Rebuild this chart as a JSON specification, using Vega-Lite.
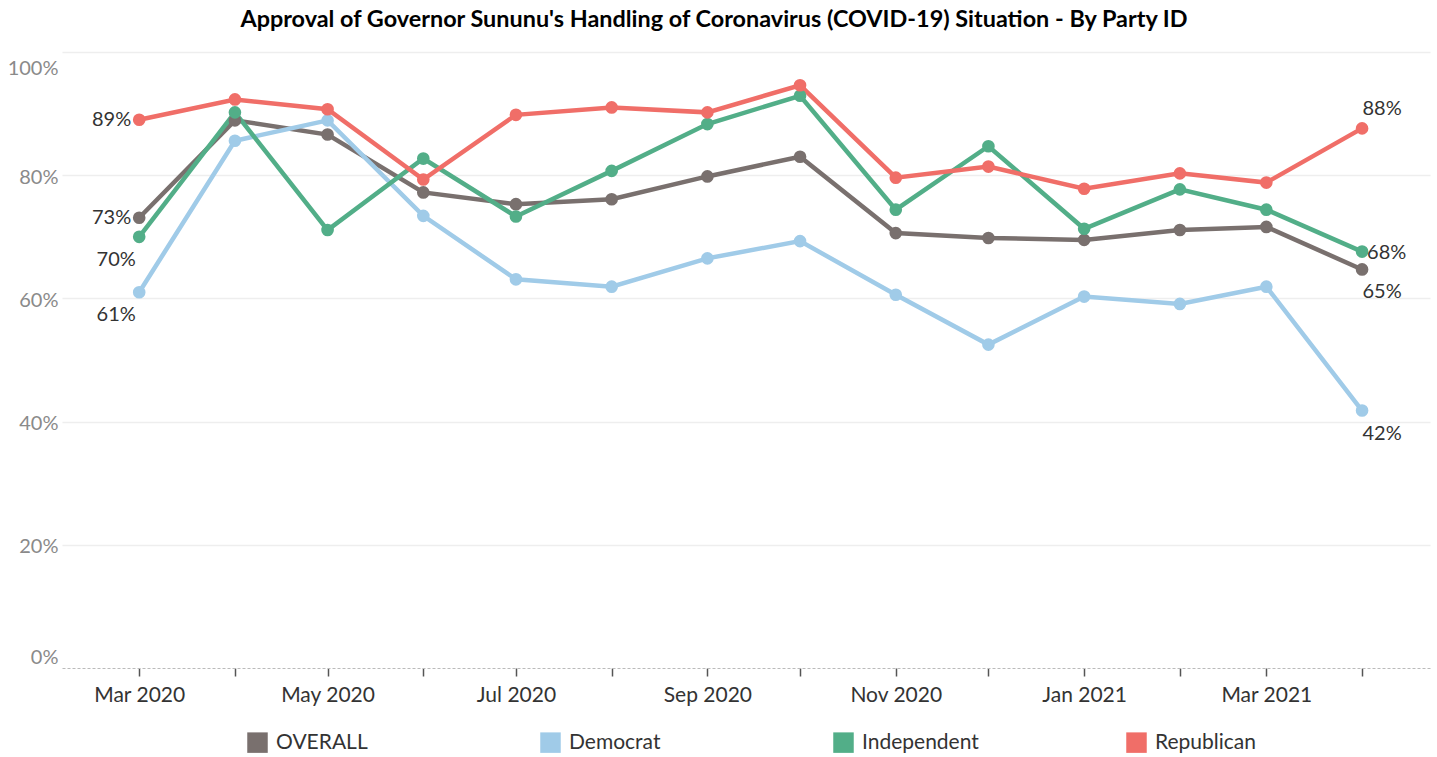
{
  "$schema": "https://vega.github.io/schema/vega-lite/v6.json",
  "width": 1368,
  "height": 616,
  "autosize": "none",
  "padding": {"left": 62, "top": 52, "right": 7, "bottom": 89},
  "background": "white",
  "title": {
    "text": "Approval of Governor Sununu's Handling of Coronavirus (COVID-19) Situation - By Party ID",
    "font": "Lato",
    "fontSize": 23.4,
    "fontWeight": "bold",
    "color": "#000000",
    "anchor": "middle",
    "dx": -32,
    "offset": 20
  },
  "config": {
    "view": {"stroke": null},
    "font": "Lato"
  },
  "data": {
    "values": [
      {"date": "2020-03-01", "series": "OVERALL", "value": 0.731},
      {"date": "2020-04-01", "series": "OVERALL", "value": 0.889},
      {"date": "2020-05-01", "series": "OVERALL", "value": 0.866},
      {"date": "2020-06-01", "series": "OVERALL", "value": 0.772},
      {"date": "2020-07-01", "series": "OVERALL", "value": 0.753},
      {"date": "2020-08-01", "series": "OVERALL", "value": 0.761},
      {"date": "2020-09-01", "series": "OVERALL", "value": 0.798},
      {"date": "2020-10-01", "series": "OVERALL", "value": 0.830},
      {"date": "2020-11-01", "series": "OVERALL", "value": 0.706},
      {"date": "2020-12-01", "series": "OVERALL", "value": 0.698},
      {"date": "2021-01-01", "series": "OVERALL", "value": 0.695},
      {"date": "2021-02-01", "series": "OVERALL", "value": 0.711},
      {"date": "2021-03-01", "series": "OVERALL", "value": 0.716},
      {"date": "2021-04-01", "series": "OVERALL", "value": 0.647},
      {"date": "2020-03-01", "series": "Democrat", "value": 0.610},
      {"date": "2020-04-01", "series": "Democrat", "value": 0.856},
      {"date": "2020-05-01", "series": "Democrat", "value": 0.889},
      {"date": "2020-06-01", "series": "Democrat", "value": 0.734},
      {"date": "2020-07-01", "series": "Democrat", "value": 0.631},
      {"date": "2020-08-01", "series": "Democrat", "value": 0.619},
      {"date": "2020-09-01", "series": "Democrat", "value": 0.665},
      {"date": "2020-10-01", "series": "Democrat", "value": 0.693},
      {"date": "2020-11-01", "series": "Democrat", "value": 0.606},
      {"date": "2020-12-01", "series": "Democrat", "value": 0.525},
      {"date": "2021-01-01", "series": "Democrat", "value": 0.603},
      {"date": "2021-02-01", "series": "Democrat", "value": 0.591},
      {"date": "2021-03-01", "series": "Democrat", "value": 0.619},
      {"date": "2021-04-01", "series": "Democrat", "value": 0.418},
      {"date": "2020-03-01", "series": "Independent", "value": 0.700},
      {"date": "2020-04-01", "series": "Independent", "value": 0.902},
      {"date": "2020-05-01", "series": "Independent", "value": 0.711},
      {"date": "2020-06-01", "series": "Independent", "value": 0.827},
      {"date": "2020-07-01", "series": "Independent", "value": 0.733},
      {"date": "2020-08-01", "series": "Independent", "value": 0.807},
      {"date": "2020-09-01", "series": "Independent", "value": 0.883},
      {"date": "2020-10-01", "series": "Independent", "value": 0.929},
      {"date": "2020-11-01", "series": "Independent", "value": 0.744},
      {"date": "2020-12-01", "series": "Independent", "value": 0.847},
      {"date": "2021-01-01", "series": "Independent", "value": 0.713},
      {"date": "2021-02-01", "series": "Independent", "value": 0.777},
      {"date": "2021-03-01", "series": "Independent", "value": 0.744},
      {"date": "2021-04-01", "series": "Independent", "value": 0.676},
      {"date": "2020-03-01", "series": "Republican", "value": 0.890},
      {"date": "2020-04-01", "series": "Republican", "value": 0.923},
      {"date": "2020-05-01", "series": "Republican", "value": 0.907},
      {"date": "2020-06-01", "series": "Republican", "value": 0.793},
      {"date": "2020-07-01", "series": "Republican", "value": 0.898},
      {"date": "2020-08-01", "series": "Republican", "value": 0.910},
      {"date": "2020-09-01", "series": "Republican", "value": 0.902},
      {"date": "2020-10-01", "series": "Republican", "value": 0.946},
      {"date": "2020-11-01", "series": "Republican", "value": 0.796},
      {"date": "2020-12-01", "series": "Republican", "value": 0.814},
      {"date": "2021-01-01", "series": "Republican", "value": 0.778},
      {"date": "2021-02-01", "series": "Republican", "value": 0.803},
      {"date": "2021-03-01", "series": "Republican", "value": 0.788},
      {"date": "2021-04-01", "series": "Republican", "value": 0.876}
    ]
  },
  "encoding": {
    "x": {
      "field": "date",
      "type": "temporal",
      "scale": {"type": "utc", "domain": ["2020-02-05", "2021-04-23"]},
      "axis": {
        "title": null,
        "grid": false,
        "tickCount": {"interval": "month", "step": 1},
        "labelExpr": "utcmonth(datum.value) % 2 == 0 ? utcFormat(datum.value, '%b %Y') : ''",
        "labelOverlap": false,
        "labelFlush": false,
        "labelFontSize": 21,
        "labelColor": "#333333",
        "labelPadding": 8,
        "tickSize": 8,
        "tickWidth": 1.5,
        "tickColor": "#555555",
        "domainColor": "#bbbbbb",
        "domainDash": [3, 2],
        "domainWidth": 1
      }
    },
    "y": {
      "field": "value",
      "type": "quantitative",
      "scale": {"domain": [0, 1], "nice": false},
      "axis": {
        "title": null,
        "format": ".0%",
        "values": [0, 0.2, 0.4, 0.6, 0.8, 1],
        "domain": false,
        "ticks": false,
        "labelPadding": 4,
        "labelFontSize": 20,
        "labelColor": "#8a8a8a",
        "labelFlush": false,
        "labelOffset": {"condition": [{"test": "datum.value == 1", "value": 16}, {"test": "datum.value == 0", "value": -11}], "value": 2},
        "gridColor": "#eeeeee",
        "gridWidth": 1.5,
        "gridOpacity": {"condition": {"test": "datum.value == 0", "value": 0}, "value": 1}
      }
    },
    "color": {
      "field": "series",
      "type": "nominal",
      "scale": {
        "domain": ["OVERALL", "Democrat", "Independent", "Republican"],
        "range": ["#79706e", "#a0cbe8", "#52ae88", "#f06e68"]
      },
      "legend": {
        "title": null,
        "orient": "none",
        "legendX": 185,
        "legendY": 680,
        "direction": "horizontal",
        "columns": 4,
        "gridAlign": "all",
        "columnPadding": 147,
        "symbolType": "square",
        "symbolSize": 420,
        "symbolStrokeWidth": 0,
        "symbolOpacity": 1,
        "labelFontSize": 21,
        "labelColor": "#333333",
        "labelOffset": 8
      }
    }
  },
  "layer": [
    {"mark": {"type": "line", "strokeWidth": 4.5}},
    {"mark": {"type": "point", "filled": true, "size": 160, "opacity": 1}},
    {
      "transform": [{"filter": "utcyear(datum.date) == 2020 && utcmonth(datum.date) == 2 && (datum.series == 'Republican' || datum.series == 'OVERALL')"}],
      "mark": {"type": "text", "align": "right", "baseline": "middle", "dx": -8, "fontSize": 20, "color": "#333333"},
      "encoding": {"text": {"field": "value", "type": "quantitative", "format": ".0%"}, "color": {"value": "#333333"}}
    },
    {
      "transform": [{"filter": "utcyear(datum.date) == 2020 && utcmonth(datum.date) == 2 && (datum.series == 'Independent' || datum.series == 'Democrat')"}],
      "mark": {"type": "text", "align": "center", "baseline": "middle", "dx": -23, "dy": 23, "fontSize": 20, "color": "#333333"},
      "encoding": {"text": {"field": "value", "type": "quantitative", "format": ".0%"}, "color": {"value": "#333333"}}
    },
    {
      "transform": [{"filter": "utcyear(datum.date) == 2021 && utcmonth(datum.date) == 3 && datum.series == 'Republican'"}],
      "mark": {"type": "text", "align": "center", "baseline": "middle", "dx": 20, "dy": -19, "fontSize": 20, "color": "#333333"},
      "encoding": {"text": {"field": "value", "type": "quantitative", "format": ".0%"}, "color": {"value": "#333333"}}
    },
    {
      "transform": [{"filter": "utcyear(datum.date) == 2021 && utcmonth(datum.date) == 3 && datum.series == 'Independent'"}],
      "mark": {"type": "text", "align": "left", "baseline": "middle", "dx": 5, "dy": 1, "fontSize": 20, "color": "#333333"},
      "encoding": {"text": {"field": "value", "type": "quantitative", "format": ".0%"}, "color": {"value": "#333333"}}
    },
    {
      "transform": [{"filter": "utcyear(datum.date) == 2021 && utcmonth(datum.date) == 3 && (datum.series == 'OVERALL' || datum.series == 'Democrat')"}],
      "mark": {"type": "text", "align": "center", "baseline": "middle", "dx": 20, "dy": 23, "fontSize": 20, "color": "#333333"},
      "encoding": {"text": {"field": "value", "type": "quantitative", "format": ".0%"}, "color": {"value": "#333333"}}
    }
  ]
}
